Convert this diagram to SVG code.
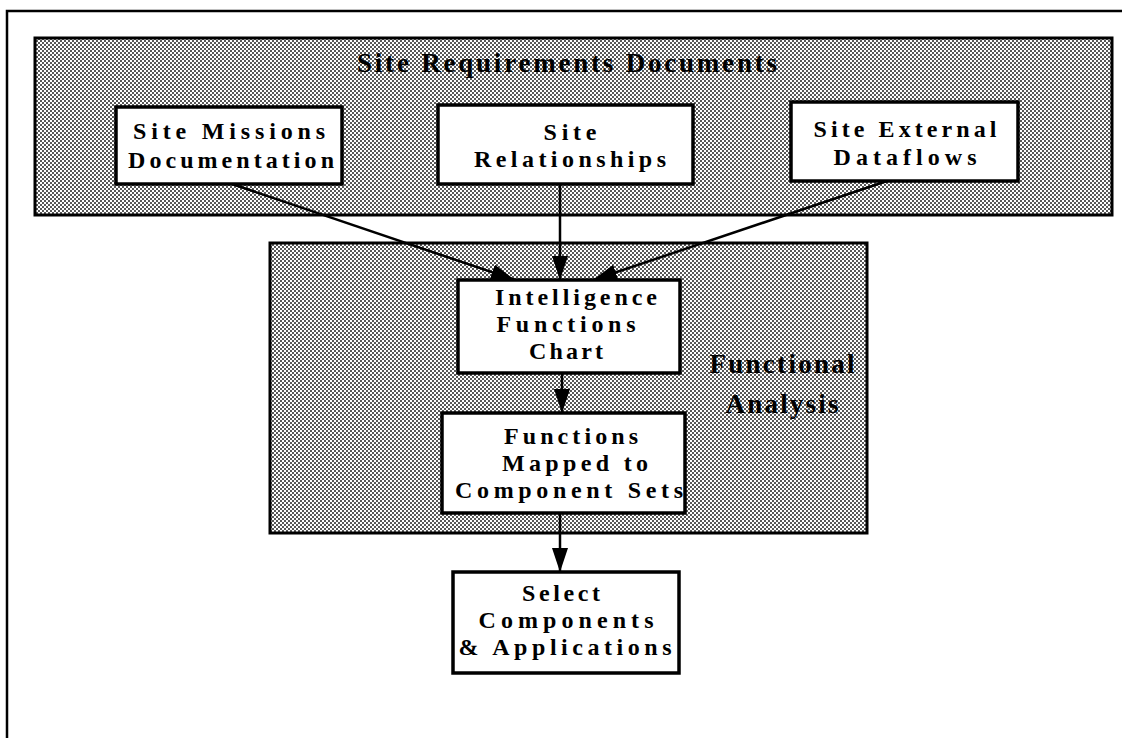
<svg xmlns="http://www.w3.org/2000/svg" width="1127" height="738" viewBox="0 0 1127 738">
<defs>
<pattern id="dots" width="4" height="4" patternUnits="userSpaceOnUse">
<rect width="4" height="4" fill="#fff"/>
<circle cx="1" cy="1" r="0.95" fill="#111"/>
<circle cx="3" cy="3" r="0.95" fill="#111"/>
</pattern>
<marker id="ah" markerWidth="24" markerHeight="16" viewBox="0 0 24 16" refX="24" refY="8" orient="auto" markerUnits="userSpaceOnUse">
<path d="M0,0 L24,8 L0,16 Z" fill="#000"/>
</marker>
</defs>
<style>
.frame{fill:none;stroke:#000;stroke-width:2.5}
.shade{fill:url(#dots);stroke:#000;stroke-width:3}
.box{fill:#fff;stroke:#000;stroke-width:3.5}
.t{font-family:"Liberation Serif","Times New Roman",serif;font-weight:bold;font-size:24px;fill:#000;text-anchor:middle}
.h{font-family:"Liberation Serif","Times New Roman",serif;font-weight:bold;font-size:27px;fill:#000;text-anchor:middle}
.c{stroke:#000;stroke-width:2.5;fill:none;marker-end:url(#ah)}
</style>
<rect width="1127" height="738" fill="#fff"/>
<path class="frame" d="M7,738 L7,11 L1122,11"/>

<g id="site-requirements">
<rect class="shade" x="35" y="38" width="1077" height="177"/>
<text class="h" x="567" y="72" textLength="420" lengthAdjust="spacing">Site  Requirements  Documents</text>
</g>
<g id="functional-analysis">
<rect class="shade" x="270" y="243" width="597" height="290"/>
<text class="h" x="782" y="373" textLength="145" lengthAdjust="spacing">Functional</text>
<text class="h" x="782" y="413" textLength="113" lengthAdjust="spacing">Analysis</text>
</g>

<g id="connectors">
<line class="c" x1="232" y1="184" x2="515" y2="280"/>
<line class="c" x1="560" y1="184" x2="560" y2="280"/>
<line class="c" x1="887" y1="181" x2="593" y2="280"/>
<line class="c" x1="562" y1="373" x2="562" y2="413"/>
<line class="c" x1="560" y1="513" x2="560" y2="572"/>
</g>

<g id="site-missions">
<rect class="box" x="116" y="107" width="226" height="77"/>
<text class="t" x="229" y="139" textLength="192" lengthAdjust="spacing">Site  Missions</text>
<text class="t" x="231" y="168" textLength="206" lengthAdjust="spacing">Documentation</text>
</g>
<g id="site-relationships">
<rect class="box" x="438" y="105" width="255" height="79"/>
<text class="t" x="570" y="140" textLength="53" lengthAdjust="spacing">Site</text>
<text class="t" x="570" y="167" textLength="192" lengthAdjust="spacing">Relationships</text>
</g>
<g id="site-external">
<rect class="box" x="791" y="102" width="227" height="79"/>
<text class="t" x="905" y="137" textLength="183" lengthAdjust="spacing">Site  External</text>
<text class="t" x="905" y="165" textLength="143" lengthAdjust="spacing">Dataflows</text>
</g>
<g id="intelligence">
<rect class="box" x="458" y="280" width="222" height="93"/>
<text class="t" x="576" y="305" textLength="162" lengthAdjust="spacing">Intelligence</text>
<text class="t" x="566" y="332" textLength="139" lengthAdjust="spacing">Functions</text>
<text class="t" x="566" y="359" textLength="74" lengthAdjust="spacing">Chart</text>
</g>
<g id="functions-mapped">
<rect class="box" x="442" y="413" width="243" height="100"/>
<text class="t" x="571" y="444" textLength="134" lengthAdjust="spacing">Functions</text>
<text class="t" x="575" y="471" textLength="146" lengthAdjust="spacing">Mapped  to</text>
<text class="t" x="569" y="498" textLength="228" lengthAdjust="spacing">Component  Sets</text>
</g>
<g id="select-components">
<rect class="box" x="453" y="572" width="226" height="101"/>
<text class="t" x="561" y="601" textLength="78" lengthAdjust="spacing">Select</text>
<text class="t" x="566" y="628" textLength="175" lengthAdjust="spacing">Components</text>
<text class="t" x="565" y="655" textLength="213" lengthAdjust="spacing">&amp;  Applications</text>
</g>
</svg>
